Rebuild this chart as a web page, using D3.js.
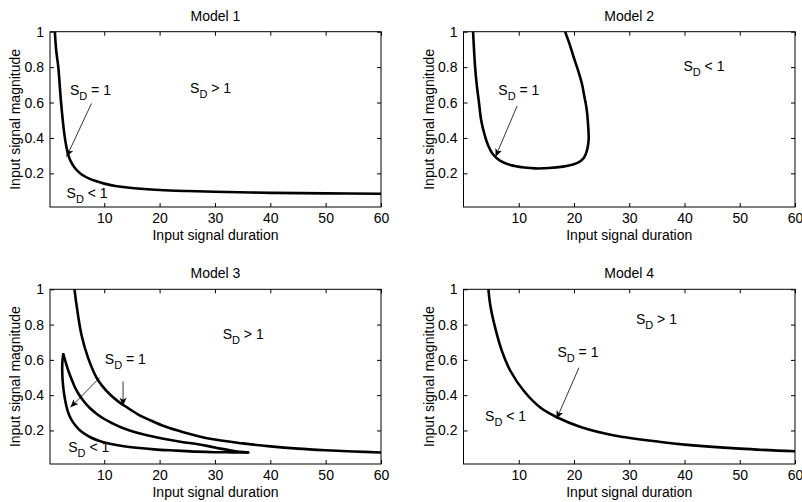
<!DOCTYPE html>
<html><head><meta charset="utf-8">
<script src="https://cdn.jsdelivr.net/npm/d3@7"></script>
<style>
html,body{margin:0;padding:0;background:#fff;}
svg text{font-family:"Liberation Sans",Arial,Helvetica,sans-serif;fill:#000;}
</style></head>
<body><svg id="c" width="802" height="502"></svg>
<script>
// ---------- data ----------
const titles = ["Model 1", "Model 2", "Model 3", "Model 4"];
const xTicks = [10, 20, 30, 40, 50, 60];
const yTicks = [0.2, 0.4, 0.6, 0.8, 1];
const xLabel = "Input signal duration";
const yLabel = "Input signal magnitude";

// Model 1: S_D = 1 boundary (duration, magnitude)
const model1 = [[1.05,1.02],[1.3,0.9],[1.7,0.8],[2.2,0.6],[2.8,0.42],[3.1,0.36],[3.5,0.305],[4,0.265],[4.6,0.235],
  [5.3,0.21],[6.2,0.188],[7.3,0.17],[8.6,0.155],[10,0.142],[12,0.129],[15,0.117],[20,0.106],[25,0.1],
  [30,0.096],[40,0.09],[50,0.087],[60,0.085]];
// Model 2: U shaped boundary
const model2 = [[1.7,1.02],[1.9,0.9],[2.1,0.8],[2.4,0.7],[2.8,0.6],[3.2,0.5],[3.8,0.42],[4.5,0.355],[5.4,0.305],
  [6.6,0.272],[8.5,0.247],[11,0.233],[13,0.228],[15.5,0.23],[18,0.238],[19.6,0.248],[20.9,0.263],[21.8,0.288],
  [22.35,0.33],[22.65,0.39],[22.6,0.45],[22.3,0.56],[21.9,0.63],[21.4,0.71],[20.7,0.785],[19.9,0.86],
  [19.2,0.93],[18.4,1],[18.2,1.02]];
// Model 3: outer boundary
const model3Outer = [[4.55,1.02],[5.0,0.91],[5.9,0.74],[7.1,0.61],[8.6,0.5],[9.7,0.45],[11,0.405],[12.5,0.365],
  [14,0.333],[16,0.293],[18.3,0.258],[21,0.222],[24.3,0.19],[29.1,0.153],[35,0.127],[40,0.11],[45,0.097],
  [50,0.088],[55,0.081],[60,0.075]];
// Model 3: inner loop, lower branch from the tip
const model3LoopLower = [[2.6,0.632],[2.42,0.58],[2.45,0.5],[2.65,0.43],[2.95,0.37],[3.4,0.31],[4,0.265],
  [4.8,0.228],[5.8,0.195],[7.4,0.163],[9,0.142],[11,0.125],[13,0.113],[15.8,0.102],[19,0.093],[23,0.086],
  [26.7,0.08],[30,0.077],[33,0.076],[36,0.075]];
// Model 3: inner loop, upper branch from the tip
const model3LoopUpper = [[2.6,0.632],[3.0,0.59],[3.5,0.54],[4.1,0.49],[4.7,0.445],[5.4,0.405],[6.2,0.37],
  [7.3,0.33],[8.6,0.295],[10,0.265],[11.5,0.24],[13,0.218],[14.6,0.2],[17,0.178],[20.7,0.153],[24,0.135],
  [26.7,0.123],[29,0.11],[31,0.097],[32.7,0.088],[34.5,0.079],[36,0.075]];
// Model 4: boundary
const model4 = [[4.45,1.02],[4.85,0.91],[5.75,0.78],[6.96,0.65],[8.5,0.537],[10.9,0.425],[13.9,0.33],[16.9,0.275],
  [21.2,0.22],[27.3,0.172],[35.7,0.135],[40,0.12],[50,0.097],[60,0.082]];

const seriesByPanel = [[model1],[model2],[model3Outer, model3LoopLower, model3LoopUpper],[model4]];

// annotations: [panel, text, subscript, rest, x, y]
const labels = [
  [0,"S","D"," = 1",3.8,0.642],[0,"S","D"," > 1",25.5,0.652],[0,"S","D"," < 1",3.2,0.059],
  [1,"S","D"," = 1",6.3,0.642],[1,"S","D"," < 1",39.8,0.778],
  [2,"S","D"," > 1",31.4,0.719],[2,"S","D"," = 1",10.1,0.579],[2,"S","D"," < 1",3.5,0.079],
  [3,"S","D"," > 1",31.2,0.803],[3,"S","D"," = 1",17,0.616],[3,"S","D"," < 1",3.9,0.253]
];
// arrows: [panel, x0, y0, x1(tip), y1(tip)]
const arrows = [
  [0,7.7,0.595,3.2,0.294],
  [1,9.7,0.58,5.8,0.294],
  [2,9.2,0.5,3.9,0.331],[2,13.4,0.478,13.4,0.34],
  [3,20.9,0.556,16.85,0.266]
];

// ---------- layout ----------
const panels = [
  {l:50, t:31.7, r:381, b:207, xmin:0.2},
  {l:463.5, t:31.7, r:795, b:207, xmin:0},
  {l:50, t:289.3, r:381, b:464, xmin:0.2},
  {l:463.5, t:289.3, r:795, b:464, xmin:0}
];
const svg = d3.select("#c");
const FS = 14;

panels.forEach((p, i) => {
  const x = d3.scaleLinear().domain([p.xmin, 60]).range([p.l, p.r]);
  const y = d3.scaleLinear().domain([0.01, 1]).range([p.b, p.t]);
  const g = svg.append("g");
  const clipId = "clip" + i;
  g.append("clipPath").attr("id", clipId).append("rect")
    .attr("x", p.l).attr("y", p.t).attr("width", p.r - p.l).attr("height", p.b - p.t);

  const ax = d3.axisBottom(x).tickValues(xTicks).tickSize(-4).tickPadding(6).tickFormat(d3.format("d"));
  const axT = d3.axisTop(x).tickValues(xTicks).tickSize(-4).tickFormat("");
  const ay = d3.axisLeft(y).tickValues(yTicks).tickSize(-4).tickPadding(6).tickFormat(d => d === 1 ? "1" : d3.format(".1f")(d));
  const ayR = d3.axisRight(y).tickValues(yTicks).tickSize(-4).tickFormat("");
  [[ax, `translate(0,${p.b})`],[axT, `translate(0,${p.t})`],[ay, `translate(${p.l},0)`],[ayR, `translate(${p.r},0)`]]
    .forEach(([a, tr]) => {
      const s = g.append("g").attr("transform", tr).call(a);
      s.select(".domain").remove();
      s.selectAll("line").attr("stroke", "#000").attr("stroke-width", 1);
      s.selectAll("text").attr("font-size", FS).attr("font-family", '"Liberation Sans",Arial,sans-serif').attr("fill", "#000");
    });
  g.append("rect").attr("x", p.l).attr("y", p.t).attr("width", p.r - p.l).attr("height", p.b - p.t)
    .attr("fill", "none").attr("stroke", "#000").attr("stroke-width", 1);

  const cx = (p.l + p.r) / 2, cy = (p.t + p.b) / 2;
  g.append("text").attr("x", cx).attr("y", p.t - 11).attr("text-anchor", "middle").attr("font-size", FS).text(titles[i]);
  g.append("text").attr("x", cx).attr("y", p.b + 32.5).attr("text-anchor", "middle").attr("font-size", FS).text(xLabel);
  g.append("text").attr("transform", `translate(${p.l - 30},${cy}) rotate(-90)`).attr("text-anchor", "middle")
    .attr("font-size", FS).text(yLabel);

  const line = d3.line().x(d => x(d[0])).y(d => y(d[1])).curve(d3.curveCatmullRom.alpha(0.5));
  seriesByPanel[i].forEach(s => {
    g.append("path").attr("d", line(s)).attr("fill", "none").attr("stroke", "#000")
      .attr("stroke-width", 2.6).attr("stroke-linejoin", "miter").attr("stroke-linecap", "round")
      .attr("clip-path", `url(#${clipId})`);
  });

  labels.filter(a => a[0] === i).forEach(a => {
    const t = g.append("text").attr("x", x(a[4])).attr("y", y(a[5])).attr("font-size", FS);
    t.append("tspan").text(a[1]);
    t.append("tspan").attr("dy", 5).attr("font-size", 11).text(a[2]);
    t.append("tspan").attr("dy", -5).text(a[3]);
  });

  arrows.filter(a => a[0] === i).forEach(a => {
    const x0 = x(a[1]), y0 = y(a[2]), x1 = x(a[3]), y1 = y(a[4]);
    g.append("line").attr("x1", x0).attr("y1", y0).attr("x2", x1).attr("y2", y1)
      .attr("stroke", "#000").attr("stroke-width", 0.8);
    const ang = Math.atan2(y1 - y0, x1 - x0) * 180 / Math.PI;
    g.append("path").attr("d", "M0,0 L-8,-3.5 L-6,0 L-8,3.5 Z")
      .attr("transform", `translate(${x1},${y1}) rotate(${ang})`).attr("fill", "#000");
  });
});
</script></body></html>
